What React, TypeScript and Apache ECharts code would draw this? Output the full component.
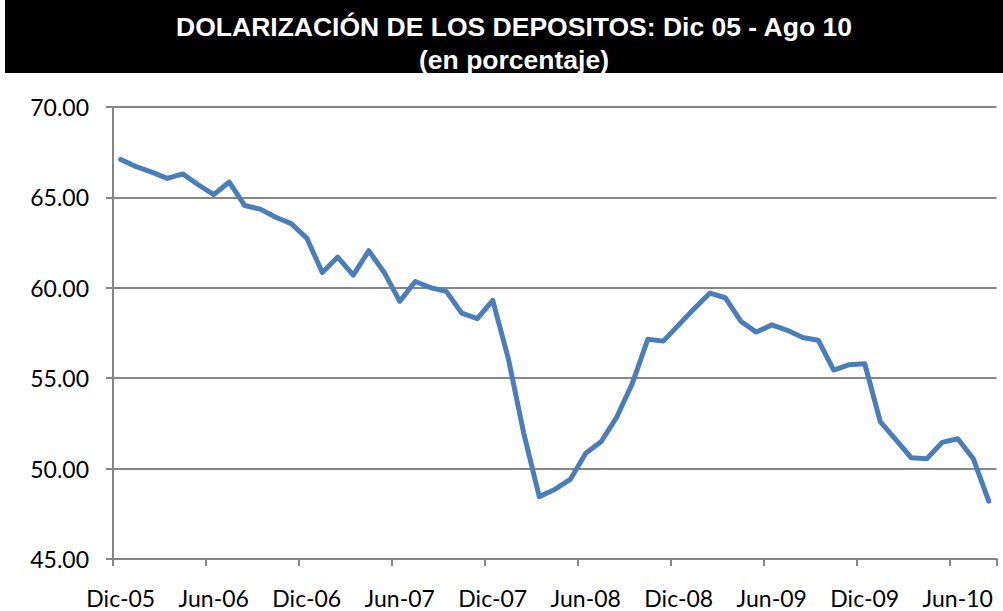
import React, { useEffect, useRef } from "react";
import * as echarts from "echarts";

const MONTHS = ["Ene", "Feb", "Mar", "Abr", "May", "Jun", "Jul", "Ago", "Sep", "Oct", "Nov", "Dic"];

// Dic-05 .. Ago-10 (monthly)
const categories: string[] = (() => {
  const out: string[] = ["Dic-05"];
  for (let y = 6; y <= 10; y++) {
    const last = y === 10 ? 8 : 12;
    for (let m = 0; m < last; m++) out.push(`${MONTHS[m]}-${String(y).padStart(2, "0")}`);
  }
  return out;
})();

const dolarizacion: number[] = [
  67.1, 66.7, 66.4, 66.05, 66.3, 65.7, 65.15, 65.85, 64.55, 64.35, 63.9, 63.55,
  62.75, 60.85, 61.7, 60.7, 62.05, 60.85, 59.25, 60.35, 60.0, 59.8, 58.6, 58.3,
  59.3, 56.1, 51.95, 48.45, 48.85, 49.4, 50.85, 51.5, 52.85, 54.7, 57.15, 57.05,
  57.95, 58.85, 59.7, 59.45, 58.15, 57.55, 57.95, 57.65, 57.25, 57.1, 55.45, 55.75,
  55.8, 52.6, 51.6, 50.6, 50.55, 51.45, 51.65, 50.55, 48.2,
];

const TITLE_1 = "DOLARIZACIÓN DE LOS DEPOSITOS: Dic 05 - Ago 10";
const TITLE_2 = "(en porcentaje)";

const Y_MIN = 45;
const Y_MAX = 70;
const Y_STEP = 5;

export default function App() {
  const ref = useRef<HTMLDivElement>(null);
  useEffect(() => {
    if (!ref.current) return;
    const chart = echarts.init(ref.current, null, { renderer: "svg" });
    const labelFont = "Lato, 'Open Sans', sans-serif";
    const titleFont = "bold 26.5px 'Liberation Sans', Arial, sans-serif";
    chart.setOption({
      animation: false,
      backgroundColor: "#ffffff",
      graphic: [
        { type: "rect", left: 5, top: 0, shape: { width: 998, height: 73 }, style: { fill: "#000000" } },
        {
          type: "text",
          x: 514,
          y: 27,
          style: { text: TITLE_1, fill: "#ffffff", font: titleFont, align: "center", verticalAlign: "middle" },
        },
        {
          type: "text",
          x: 514,
          y: 60,
          style: { text: TITLE_2, fill: "#ffffff", font: titleFont, align: "center", verticalAlign: "middle" },
        },
      ],
      grid: { left: 113, right: 6.5, top: 107, bottom: 52 },
      xAxis: {
        type: "category",
        data: categories,
        boundaryGap: true,
        axisLine: { lineStyle: { color: "#868686", width: 2 } },
        axisTick: { show: true, interval: 5, length: 7, lineStyle: { color: "#868686", width: 2 } },
        axisLabel: {
          interval: 5,
          color: "#000",
          fontFamily: labelFont,
          fontSize: 23,
          margin: 27,
        },
        splitLine: { show: false },
      },
      yAxis: {
        type: "value",
        min: Y_MIN,
        max: Y_MAX,
        interval: Y_STEP,
        axisLine: { show: true, lineStyle: { color: "#868686", width: 2 } },
        axisTick: { show: true, length: 7, lineStyle: { color: "#868686", width: 2 } },
        axisLabel: {
          color: "#000",
          fontFamily: labelFont,
          fontSize: 23,
          margin: 24,
          formatter: (v: number) => v.toFixed(2),
        },
        splitLine: { show: true, lineStyle: { color: "#868686", width: 2 } },
      },
      series: [
        {
          type: "line",
          data: dolarizacion,
          showSymbol: false,
          symbol: "none",
          lineStyle: { color: "#4a7ebb", width: 5, join: "round", cap: "round" },
        },
      ],
    });
    return () => chart.dispose();
  }, []);
  return <div ref={ref} style={{ position: "fixed", left: 0, top: 0, width: 1003, height: 611 }} />;
}
